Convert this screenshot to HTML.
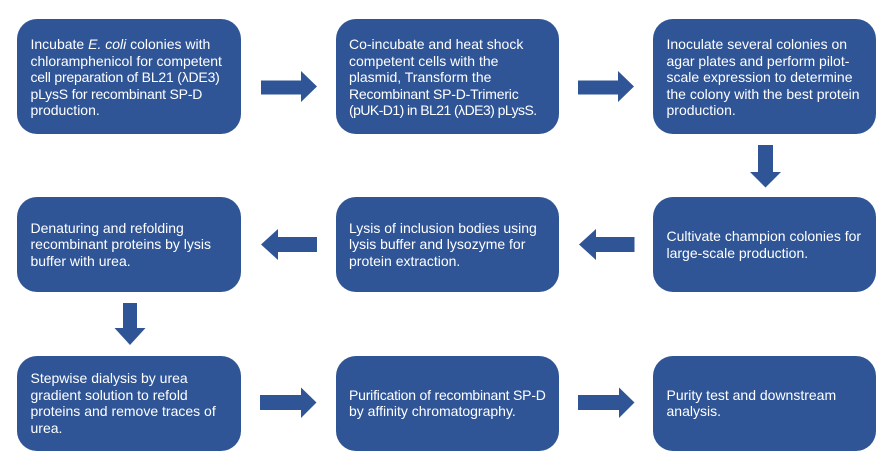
<!DOCTYPE html>
<html>
<head>
<meta charset="utf-8">
<style>
  html, body { margin: 0; padding: 0; background: #ffffff; }
  #wrap { position: relative; width: 881px; height: 456px; overflow: hidden; background: #ffffff; }
  .box {
    position: absolute;
    background: #2F5597;
    border-radius: 20px;
    color: #ffffff;
    font-family: "Liberation Sans", "DejaVu Sans", sans-serif;
    font-size: 14px;
    line-height: 16.5px;
    display: flex;
    align-items: center;
    box-sizing: border-box;
    padding-left: 13.5px;
    white-space: nowrap;
  }
  .r1 { top: 18.5px; height: 115.5px; padding-top: 2px; }
  .r2 { top: 197px; height: 95px; }
  .r3 { top: 355.5px; height: 95.5px; }
  .c1 { left: 17px; width: 224px; }
  .c2 { left: 335.5px; width: 223px; }
  .c3 { left: 653px; width: 223px; }
  .t1 { letter-spacing: -0.2px; }
  .t2 { letter-spacing: -0.55px; }
  svg { position: absolute; left: 0; top: 0; }
</style>
</head>
<body>
<div id="wrap">
  <div class="box r1 c1"><div>Incubate <i>E. coli</i> colonies with<br>chloramphenicol for competent<br><span class="t1">cell preparation of BL21 (λDE3)</span><br><span class="t1">pLysS for recombinant SP-D</span><br>production.</div></div>
  <div class="box r1 c2"><div>Co-incubate and heat shock<br>competent cells with the<br>plasmid, Transform the<br><span class="t1">Recombinant SP-D-Trimeric</span><br><span class="t2">(pUK-D1) in BL21 (λDE3) pLysS.</span></div></div>
  <div class="box r1 c3"><div>Inoculate several colonies on<br>agar plates and perform pilot-<br>scale expression to determine<br>the colony with the best protein<br>production.</div></div>

  <div class="box r2 c1"><div>Denaturing and refolding<br>recombinant proteins by lysis<br>buffer with urea.</div></div>
  <div class="box r2 c2"><div>Lysis of inclusion bodies using<br>lysis buffer and lysozyme for<br>protein extraction.</div></div>
  <div class="box r2 c3"><div>Cultivate champion colonies for<br>large-scale production.</div></div>

  <div class="box r3 c1"><div>Stepwise dialysis by urea<br>gradient solution to refold<br>proteins and remove traces of<br>urea.</div></div>
  <div class="box r3 c2"><div><span class="t1">Purification of recombinant SP-D</span><br>by affinity chromatography.</div></div>
  <div class="box r3 c3"><div>Purity test and downstream<br>analysis.</div></div>

  <svg width="881" height="456" viewBox="0 0 881 456" xmlns="http://www.w3.org/2000/svg">
    <g fill="#2F5597">
      <polygon points="261,80.5 301,80.5 301,71 317,86.5 301,102 301,94.5 261,94.5"/>
      <polygon points="578,80.5 618,80.5 618,71 634,86.5 618,102 618,94.5 578,94.5"/>
      <polygon points="758,145 773,145 773,172 781,172 765.5,187.5 750,172 758,172"/>
      <polygon points="634.5,237 596,237 596,229 579,244.5 596,260 596,252 634.5,252"/>
      <polygon points="317,237 278,237 278,229 261,244.5 278,260 278,252 317,252"/>
      <polygon points="123,303 137,303 137,328 145.5,328 130,345 114.5,328 123,328"/>
      <polygon points="260,395 301,395 301,387.5 316.5,402.5 301,418 301,410 260,410"/>
      <polygon points="578,395 619,395 619,387.5 634.5,402.5 619,418 619,410 578,410"/>
    </g>
  </svg>
</div>
</body>
</html>
